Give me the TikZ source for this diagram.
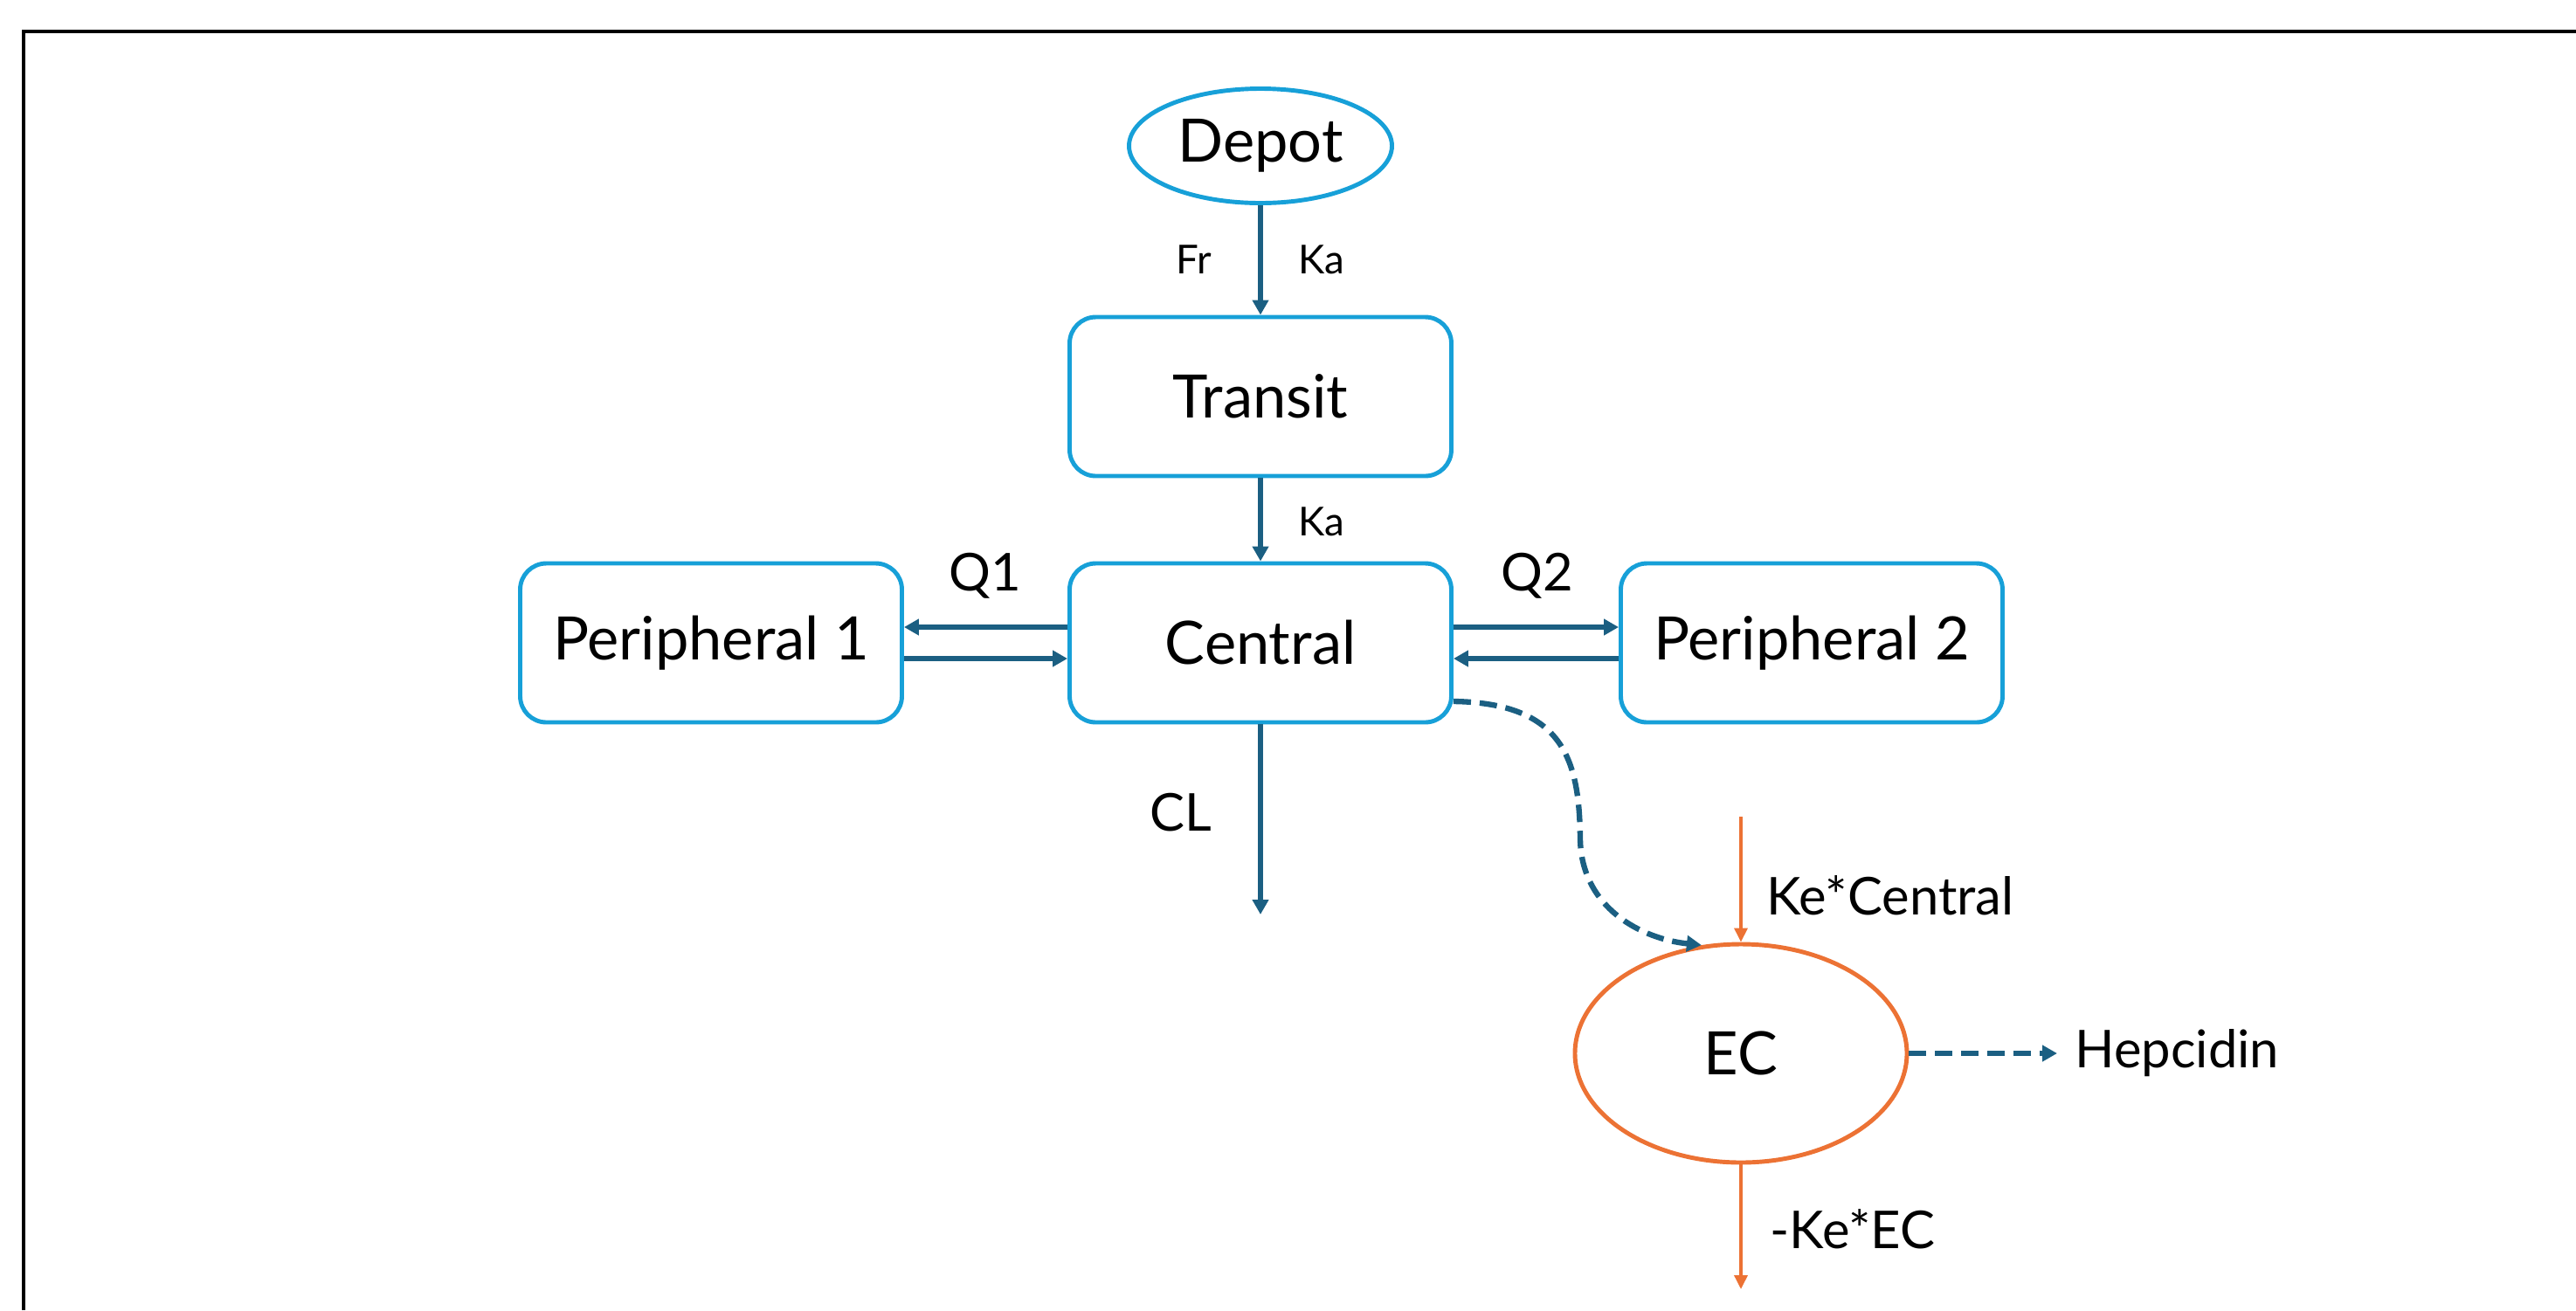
\documentclass[tikz,border=0pt]{standalone}
\usepackage{fontspec}
\setmainfont{Lato}
\usetikzlibrary{shapes.geometric,arrows.meta}
\definecolor{boxblue}{HTML}{17A0D8}
\definecolor{flowblue}{HTML}{1B5F82}
\definecolor{ecorange}{HTML}{EC7234}
\tikzset{
  comp/.style={draw=boxblue,line width=1.4pt,rounded corners=0.3cm,
    minimum width=4.37cm,minimum height=1.82cm,font=\fontsize{19.5}{23}\selectfont},
  flow/.style={draw=flowblue,line width=1.6pt,->},
  effect/.style={draw=flowblue,line width=1.8pt,dash pattern=on 0.2cm off 0.1cm,->},
  ecflow/.style={draw=ecorange,line width=1pt,-{Triangle[length=0.16cm,width=0.15cm]}},
  rate/.style={font=\fontsize{13}{15}\selectfont},
  param/.style={font=\fontsize{17}{20}\selectfont}
}
\begin{document}
\begin{tikzpicture}[>={Triangle[length=0.17cm,width=0.18cm]}]
                \useasboundingbox (0,0) rectangle (29.49,-15);
                %% frame
                \draw[line width=1.15pt] (0.27,-15) -- (0.27,-0.36) -- (29.49,-0.36);
                %% compartments
                \node[ellipse,draw=boxblue,line width=1.4pt,inner sep=0pt,minimum width=3.01cm,minimum height=1.31cm,
                  font=\fontsize{19.5}{23}\selectfont] (depot) at (14.43,-1.67) {Depot};
                \node[comp] (transit) at (14.43,-4.54) {Transit};
                \node[comp] (central) at (14.43,-7.36) {Central};
                \node[comp] (per1) at (8.14,-7.36) {Peripheral 1};
                \node[comp] (per2) at (20.74,-7.36) {Peripheral 2};
                \node[ellipse,draw=ecorange,line width=1.4pt,inner sep=0pt,minimum width=3.8cm,minimum height=2.5cm,
                  font=\fontsize{19.5}{23}\selectfont] (ec) at (19.93,-12.06) {EC};
                %% free ends
                \coordinate (clend) at (14.43,-10.47);
                \coordinate (kestart) at (19.93,-9.35);
                \coordinate (keend) at (19.93,-14.76);
                \coordinate (hepend) at (23.55,-12.06);
                %% absorption
                \draw[flow] (depot) -- (transit);
                \draw[flow] (transit) -- (central);
                \node[rate] (fr) at (13.67,-2.97) {Fr};
                \node[rate] (ka1) at (15.13,-2.97) {Ka};
                \node[rate] (ka2) at (15.13,-5.97) {Ka};
                %% distribution
                \draw[flow] ([yshift=0.18cm]central.west) -- ([yshift=0.18cm]per1.east);
                \draw[flow] ([yshift=-0.18cm]per1.east) -- ([yshift=-0.18cm]central.west);
                \draw[flow] ([yshift=0.18cm]central.east) -- ([yshift=0.18cm]per2.west);
                \draw[flow] ([yshift=-0.18cm]per2.west) -- ([yshift=-0.18cm]central.east);
                \node[param] (q1) at (11.28,-6.59) {Q1};
                \node[param] (q2) at (17.6,-6.59) {Q2};
                %% elimination
                \draw[flow] (central) -- (clend);
                \node[param] (cl) at (13.52,-9.3) {CL};
                %% effect compartment
                \draw[effect] ([yshift=-0.67cm]central.east) .. controls (17.9,-8.05) and (18.08,-8.7) .. (18.09,-9.6)
                  .. controls (18.1,-10.4) and (18.8,-10.75) .. (ec.110);
                \draw[ecflow] (kestart) -- (ec);
                \draw[ecflow] (ec) -- (keend);
                \draw[effect] (ec) -- (hepend);
                \node[param,anchor=west] (kec) at (20.1,-10.25) {Ke*Central};
                \node[param,anchor=west] (keec) at (20.14,-14.07) {-Ke*EC};
                \node[param,anchor=west] (hep) at (23.63,-12.06) {Hepcidin};
            \end{tikzpicture}
\end{document}
